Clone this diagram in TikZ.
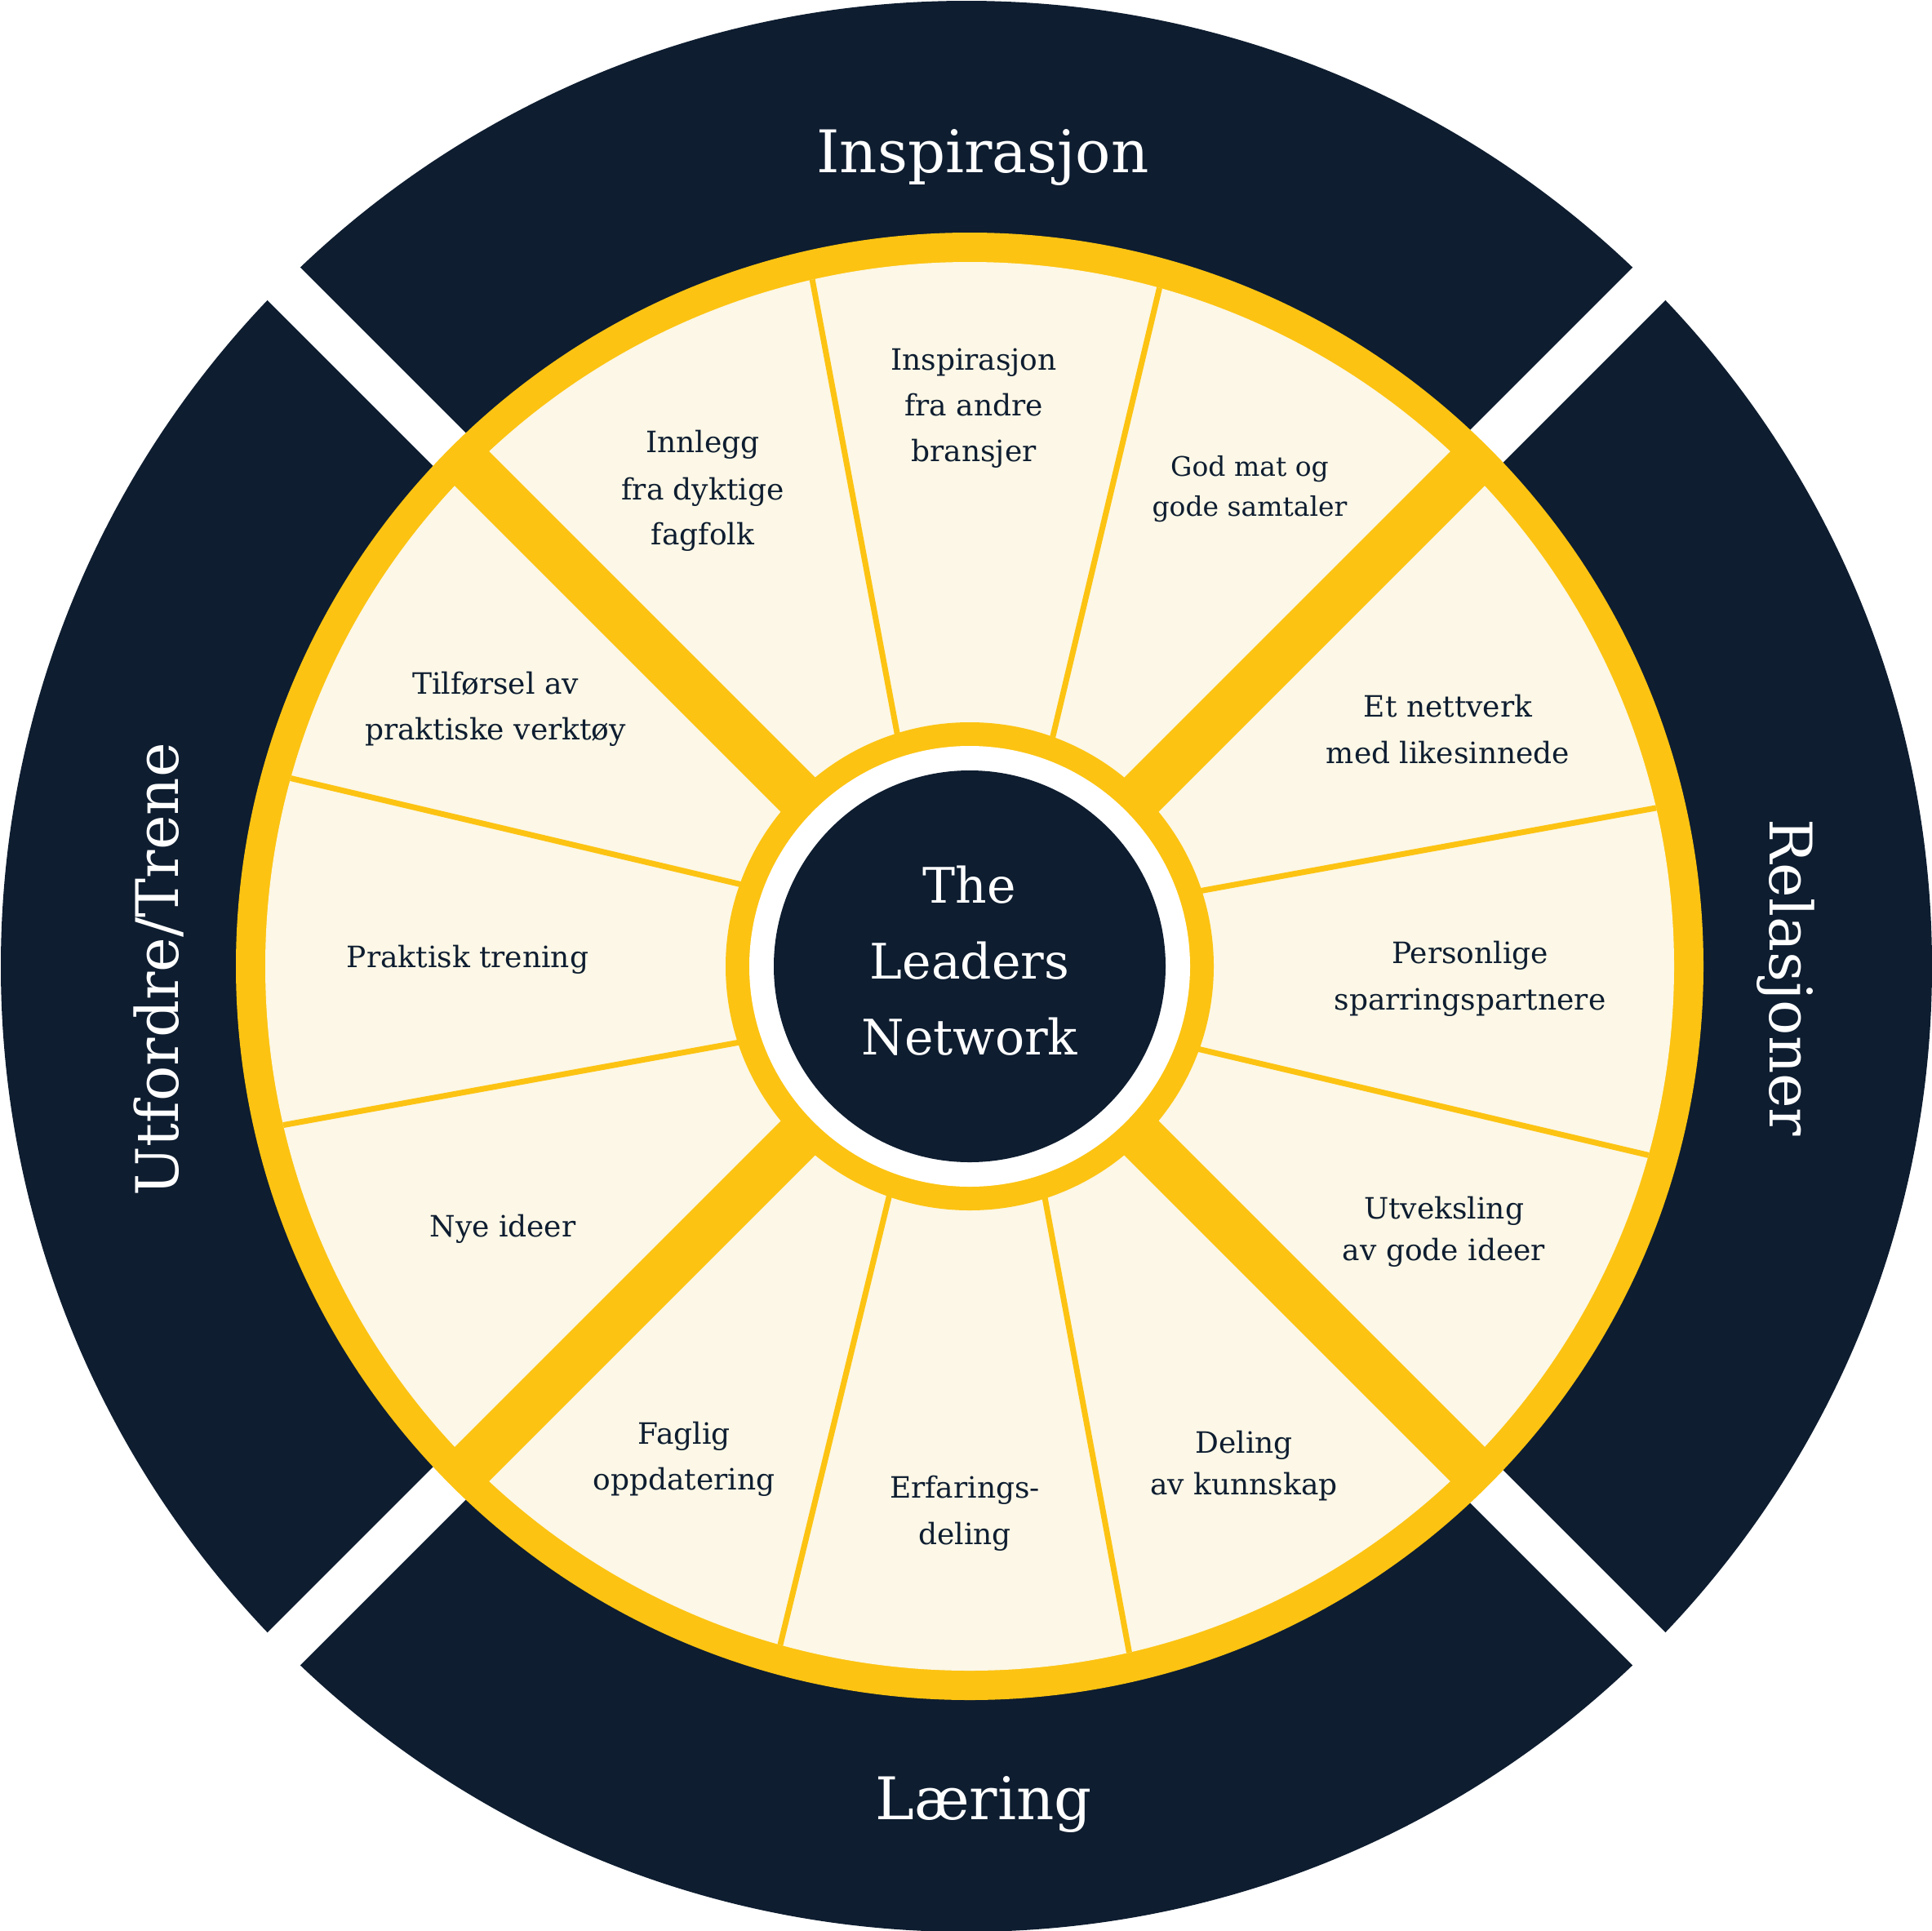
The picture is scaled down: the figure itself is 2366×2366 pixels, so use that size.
\documentclass[tikz,border=0pt]{standalone}
\usepackage{fontspec}
\setmainfont{DejaVu Serif}
\definecolor{navy}{RGB}{14,29,48}
\definecolor{gold}{RGB}{252,195,18}
\definecolor{cream}{RGB}{252,247,230}
\begin{document}
\begin{tikzpicture}[x=0.5pt,y=-0.5pt,
  big/.style={text=white,font=\fontsize{36pt}{40pt}\selectfont,anchor=base,inner sep=0pt},
  mid/.style={text=white,font=\fontsize{30pt}{36pt}\selectfont,anchor=base,inner sep=0pt},
  lab/.style={text=navy,font=\fontsize{18pt}{22pt}\selectfont,anchor=base,inner sep=0pt},
  labs/.style={text=navy,font=\fontsize{16.5pt}{20pt}\selectfont,anchor=base,inner sep=0pt},
  thinline/.style={draw=gold,line width=3.5pt,shorten <=-40pt,shorten >=-40pt},
  spoke/.style={draw=gold,line width=29.7pt},
  gapline/.style={draw=white,line width=28.3pt}]
\useasboundingbox (0,0) rectangle (2366,2366);
\coordinate (O) at (1184,1184);
\coordinate (C) at (1188,1184);
% outer dark ring
\fill[navy] (O) circle[radius=591.5pt];
\coordinate (g1) at (284,284); \coordinate (g2) at (2084,2084);
\coordinate (g3) at (2084,284); \coordinate (g4) at (284,2084);
\draw[gapline] (g1) -- (g2);
\draw[gapline] (g3) -- (g4);
% yellow ring and cream field
\fill[gold] (C) circle[radius=449.5pt];
\fill[cream] (C) circle[radius=431.5pt];
\begin{scope}
\clip (C) circle[radius=431.5pt];
\coordinate (a1) at (996,347);   \coordinate (b1) at (1099,898);
\coordinate (a2) at (1420,355);  \coordinate (b2) at (1290,902);
\coordinate (a3) at (2023,991);  \coordinate (b3) at (1474,1091);
\coordinate (a4) at (2018,1415); \coordinate (b4) at (1471,1286);
\coordinate (a5) at (358,954);   \coordinate (b5) at (905,1083);
\coordinate (a6) at (350,1378);  \coordinate (b6) at (901,1278);
\coordinate (a7) at (957,2011);  \coordinate (b7) at (1089,1467);
\coordinate (a8) at (1382,2017); \coordinate (b8) at (1280,1467);
\foreach \i in {1,...,8} {\draw[thinline] (a\i) -- (b\i);}
\end{scope}
% thick spokes
\coordinate (s1) at (568,564);  \coordinate (s2) at (1808,1804);
\coordinate (s3) at (1808,564); \coordinate (s4) at (568,1804);
\draw[spoke] (s1) -- (s2);
\draw[spoke] (s3) -- (s4);
% hub
\fill[gold] (C) circle[radius=149.5pt];
\fill[white] (C) circle[radius=135pt];
\fill[navy] (C) circle[radius=120pt];
% centre text
\node[mid] (c1) at (1188,1106) {The};
\node[mid] (c2) at (1188,1199) {Leaders};
\node[mid] (c3) at (1188,1292) {Network};
% ring titles
\node[big] (t1) at (1204,211) {Inspirasjon};
\node[big] (t2) at (1205,2229) {Læring};
\node[big,rotate=-90] (t3) at (2168,1198) {Relasjoner};
\node[big,rotate=90] (t4) at (218,1188) {Utfordre/Trene};
% segment labels
\node[lab] (p1a) at (1193,453) {Inspirasjon};
\node[lab] (p1b) at (1193,509) {fra andre};
\node[lab] (p1c) at (1193,565) {bransjer};
\node[labs] (p2a) at (1531,583) {God mat og};
\node[labs] (p2b) at (1531,632) {gode samtaler};
\node[lab] (p3a) at (861,554) {Innlegg};
\node[lab] (p3b) at (861,612) {fra dyktige};
\node[lab] (p3c) at (861,667) {fagfolk};
\node[lab] (p4a) at (1774,878) {Et nettverk};
\node[lab] (p4b) at (1774,935) {med likesinnede};
\node[lab] (p5a) at (607,850) {Tilførsel av};
\node[lab] (p5b) at (607,906) {praktiske verktøy};
\node[lab] (p6a) at (1801,1180) {Personlige};
\node[lab] (p6b) at (1801,1237) {sparringspartnere};
\node[lab] (p7) at (573,1185) {Praktisk trening};
\node[lab] (p8a) at (1769,1493) {Utveksling};
\node[lab] (p8b) at (1769,1544) {av gode ideer};
\node[lab] (p9) at (616,1515) {Nye ideer};
\node[lab] (p10a) at (838,1769) {Faglig};
\node[lab] (p10b) at (838,1825) {oppdatering};
\node[lab] (p11a) at (1182,1835) {Erfarings-};
\node[lab] (p11b) at (1182,1892) {deling};
\node[lab] (p12a) at (1524,1780) {Deling};
\node[lab] (p12b) at (1524,1831) {av kunnskap};
\end{tikzpicture}
\end{document}
